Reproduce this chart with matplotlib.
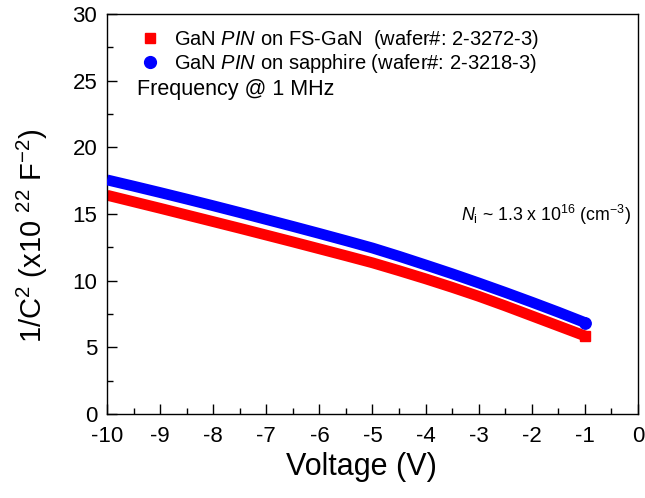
import matplotlib
matplotlib.use("Agg")
import matplotlib.pyplot as plt
from matplotlib.ticker import MultipleLocator
from matplotlib.lines import Line2D

# =========================
# DATA
# =========================

voltage = [-10.0, -9.5, -9.0, -8.5, -8.0, -7.5, -7.0, -6.5, -6.0, -5.5,
           -5.0, -4.5, -4.0, -3.5, -3.0, -2.5, -2.0, -1.5, -1.0]

inv_c2_fsgan = [16.40, 15.91, 15.42, 14.92, 14.42, 13.92, 13.41, 12.90, 12.38, 11.86,
                11.33, 10.74, 10.13, 9.49, 8.82, 8.10, 7.35, 6.60, 5.85]

inv_c2_sapphire = [17.55, 17.08, 16.60, 16.11, 15.61, 15.10, 14.58, 14.06, 13.53, 12.99,
                   12.44, 11.82, 11.17, 10.51, 9.82, 9.11, 8.38, 7.63, 6.85]

label_fsgan = "GaN $\\mathit{PIN}$ on FS-GaN  (wafer#: 2-3272-3)"
label_sapphire = "GaN $\\mathit{PIN}$ on sapphire (wafer#: 2-3218-3)"

# =========================
# STYLE
# =========================

plt.rcParams["font.family"] = ["Liberation Sans", "DejaVu Sans"]
plt.rcParams["mathtext.fontset"] = "custom"
plt.rcParams["mathtext.rm"] = "Liberation Sans"
plt.rcParams["mathtext.it"] = "Liberation Sans:italic"
plt.rcParams["mathtext.bf"] = "Liberation Sans:bold"
plt.rcParams["axes.unicode_minus"] = False

fig = plt.figure(figsize=(6.45, 4.98), dpi=100)
ax = fig.add_axes([0.166, 0.169, 0.823, 0.803])

# =========================
# PLOT
# =========================

# dense marker bands drawn as thick lines, end marker gives the cap shape
ax.plot(voltage, inv_c2_fsgan, color="red", lw=7.8, solid_capstyle="butt",
        marker="s", ms=7.8, markevery=[-1], mec="red", mfc="red", zorder=2)
ax.plot(voltage, inv_c2_sapphire, color="blue", lw=7.8, solid_capstyle="butt",
        marker="o", ms=8.2, markevery=[-1], mec="blue", mfc="blue", zorder=3)

handles = [
    Line2D([], [], ls="none", marker="s", ms=7.5, color="red"),
    Line2D([], [], ls="none", marker="o", ms=8.5, color="blue"),
]
ax.legend(handles, [label_fsgan, label_sapphire], loc="upper left",
          frameon=False, fontsize=14.5, handlelength=1.0, handletextpad=0.7,
          labelspacing=0.05, borderaxespad=0.0, bbox_to_anchor=(0.046, 0.985))

ax.text(0.0565, 0.81, "Frequency @ 1 MHz", transform=ax.transAxes,
        fontsize=15.5, va="center", ha="left")

ax.text(0.666, 0.497, "$\\mathit{N}_{\\rm i}$ ~ 1.3 x 10$^{16}$ (cm$^{-3}$)",
        transform=ax.transAxes, fontsize=12.8, va="center", ha="left")

# =========================
# AXES
# =========================

ax.set_xlim(-10, 0)
ax.set_ylim(0, 30)
ax.xaxis.set_major_locator(MultipleLocator(1))
ax.xaxis.set_minor_locator(MultipleLocator(0.5))
ax.yaxis.set_major_locator(MultipleLocator(5))
ax.yaxis.set_minor_locator(MultipleLocator(2.5))

ax.tick_params(which="both", direction="in", top=False, right=False,
               width=1, labelsize=16)
ax.tick_params(which="major", length=7)
ax.tick_params(which="minor", length=4)
ax.tick_params(axis="x", which="major", pad=9)
ax.tick_params(axis="y", which="major", pad=7)

for sp in ax.spines.values():
    sp.set_linewidth(1)

ax.set_xlabel("Voltage (V)", fontsize=22)
ax.set_ylabel("1/C$^2$ (x10 $^{22}$ F$^{-2}$)", fontsize=21)
ax.xaxis.set_label_coords(0.48, -0.095, transform=ax.transAxes)
ax.xaxis.label.set_va("top")
ax.yaxis.set_label_coords(-0.107, 0.445, transform=ax.transAxes)

plt.savefig("out.png", dpi=100)
